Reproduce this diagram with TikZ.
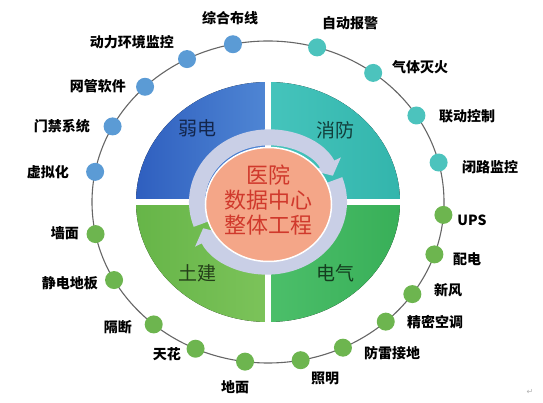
\documentclass[tikz,border=0pt]{standalone}
\usepackage{fontspec}
\newfontfamily\cjk{Noto Sans CJK SC}
\newfontfamily\symb{DejaVu Sans}
\usetikzlibrary{arrows.meta}

\definecolor{weakc}{HTML}{2F5FBF}
\definecolor{weakl}{HTML}{4F86D4}
\definecolor{firec}{HTML}{33B5AC}
\definecolor{firel}{HTML}{45C4BC}
\definecolor{civc}{HTML}{66B548}
\definecolor{civl}{HTML}{7CC35A}
\definecolor{elec}{HTML}{38AF58}
\definecolor{elel}{HTML}{4CBF6A}
\definecolor{dotb}{HTML}{5B9BD5}
\definecolor{dott}{HTML}{4CC3BD}
\definecolor{dotg}{HTML}{6DB54F}
\definecolor{ringc}{HTML}{C9CFE6}
\definecolor{corec}{HTML}{F4A688}
\definecolor{textr}{HTML}{D0392C}

\begin{document}
\begin{tikzpicture}[x=1pt,y=1pt]
  \tikzset{dot/.style = {shape=circle,fill=#1,minimum size=18pt,inner sep=0pt}}
  \tikzset{tag/.style = {font=\cjk\bfseries\fontsize{14}{16}\selectfont,inner sep=0pt}}
  \tikzset{part/.style = {font=\cjk\fontsize{19}{21}\selectfont}}
  \tikzset{turn/.style = {draw=ringc,line width=16pt,-{Triangle[width=30pt,length=13pt]}}}

  \useasboundingbox (-268,-201) rectangle (275,202);

  % four parts
  \fill[left color=weakc,right color=weakl] (0,0) -- (90:132 and 120)
    arc[start angle=90,end angle=180,x radius=132,y radius=120] -- cycle;
  \fill[left color=firel,right color=firec] (0,0) -- (0:132 and 120)
    arc[start angle=0,end angle=90,x radius=132,y radius=120] -- cycle;
  \fill[left color=civc,right color=civl] (0,0) -- (180:132 and 120)
    arc[start angle=180,end angle=270,x radius=132,y radius=120] -- cycle;
  \fill[left color=elel,right color=elec] (0,0) -- (270:132 and 120)
    arc[start angle=270,end angle=360,x radius=132,y radius=120] -- cycle;
  \draw[white,line width=6pt] (-140,0) -- (140,0) (0,-128) -- (0,128);

  \node[part,text=weakc!40!black] (weak) at (-70,74) {弱电};
  \node[part,text=firec!35!black] (fire) at (67,72) {消防};
  \node[part,text=civc!35!black] (civil) at (-70,-71) {土建};
  \node[part,text=elec!35!black] (power) at (67,-71) {电气};

  % cycle
  \draw[turn] (20:71 and 64.5) arc[start angle=20,end angle=-156,x radius=71,y radius=64.5];
  \draw[turn] (200:71 and 64.5) arc[start angle=200,end angle=24,x radius=71,y radius=64.5];
  \fill[corec,draw=white,line width=1.5pt] (0.5,-2.5) ellipse [x radius=63,y radius=57];
  \node[font=\cjk\fontsize{22}{25}\selectfont,text=textr,align=center] (core) at (0.5,2)
    {医院\\数据中心\\整体工程};

  % outer ring
  \draw[gray!80!black,line width=1.1pt] (0,0) ellipse [x radius=176,y radius=161];
  \foreach \n/\a/\c/\lx/\ly/\t in {
      1/101.5/dotb/-38/184/综合布线, 2/117.4/dotb/-136/160/动力环境监控,
      3/134.3/dotb/-170/116/网管软件, 4/152/dotb/-206/76/门禁系统,
      5/169.2/dotb/-220/30/虚拟化, 6/73.8/dott/82/179/自动报警,
      7/53.3/dott/152/135/气体灭火, 8/32.5/dott/199/86/联动控制,
      9/14.2/dott/222/35/闭路监控, 10/-4.6/dotg/204/-18/UPS,
      11/-19/dotg/199/-57/配电, 12/-34.9/dotg/180/-88/新风,
      13/-48/dotg/167/-120/精密空调, 14/-64.8/dotg/124/-151/防雷接地,
      15/-79.3/dotg/57/-176/照明, 16/262.5/dotg/-33/-185/地面,
      17/245.7/dotg/-101/-152/天花, 18/229.5/dotg/-150/-125/隔断,
      19/209/dotg/-198/-81/静电地板, 20/191.5/dotg/-203/-31/墙面}
  {
    \node[dot=\c] (d\n) at (\a:176 and 161) {};
    \node[tag] (t\n) at (\lx,\ly) {\t};
  }

  \node[font=\symb\fontsize{8}{8}\selectfont,text=gray!60] (ret) at (262,-190) {↵};
\end{tikzpicture}
\end{document}
